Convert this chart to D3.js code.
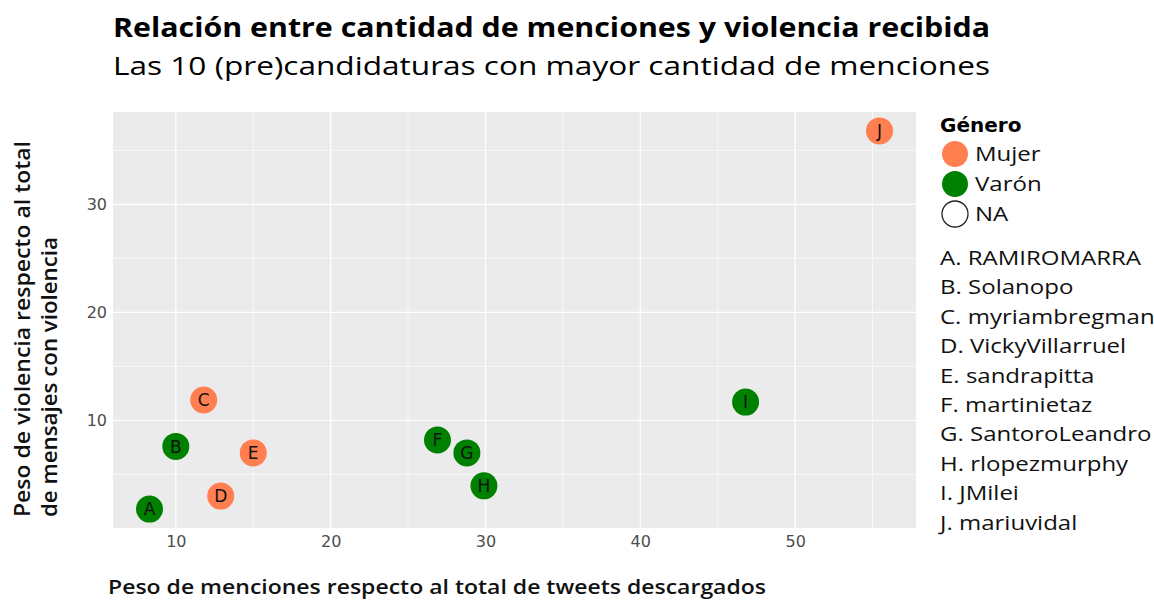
<!DOCTYPE html>
<html>
<head>
<meta charset="utf-8">
<script src="https://cdn.jsdelivr.net/npm/d3@7"></script>
<style>
  body { margin: 0; background: #fff; }
  text { font-family: "Open Sans", "DejaVu Sans", sans-serif; }
</style>
</head>
<body>
<div id="chart"></div>
<script>
// data
const letters = ["A", "B", "C", "D", "E", "F", "G", "H", "I", "J"];
const names = ["RAMIROMARRA", "Solanopo", "myriambregman", "VickyVillarruel", "sandrapitta",
  "martinietaz", "SantoroLeandro", "rlopezmurphy", "JMilei", "mariuvidal"];
const genero = ["Varón", "Varón", "Mujer", "Mujer", "Mujer", "Varón", "Varón", "Varón", "Varón", "Mujer"];
const menciones = [8.3, 10.0, 11.8, 12.9, 15.0, 26.9, 28.8, 29.9, 46.8, 55.45];
const violencia = [1.8, 7.6, 11.9, 3.0, 7.0, 8.2, 7.0, 3.95, 11.7, 36.8];
const xTicks = [10, 20, 30, 40, 50];
const yTicks = [10, 20, 30];
const legendKeys = ["Mujer", "Varón", "NA"];

const width = 1154, height = 601;
const panel = { left: 113, right: 916, top: 112, bottom: 528 };
const wide = "\"DejaVu Sans\", sans-serif";

const svg = d3.select("#chart").append("svg")
    .attr("width", width)
    .attr("height", height);

const data = letters.map((l, i) => ({
    letter: l, name: names[i], g: genero[i], x: menciones[i], y: violencia[i]
}));

// ggplot style 5% expansion
const xr = d3.extent(menciones), yr = d3.extent(violencia);
const xPad = (xr[1] - xr[0]) * 0.05, yPad = (yr[1] - yr[0]) * 0.05;

const x = d3.scaleLinear()
    .domain([xr[0] - xPad, xr[1] + xPad])
    .range([panel.left, panel.right]);
const y = d3.scaleLinear()
    .domain([yr[0] - yPad, yr[1] + yPad])
    .range([panel.bottom, panel.top]);

const color = d3.scaleOrdinal()
    .domain(["Mujer", "Varón"])
    .range(["#FF7F50", "#008000"]);

// panel background
svg.append("rect")
    .attr("x", panel.left)
    .attr("y", panel.top)
    .attr("width", panel.right - panel.left)
    .attr("height", panel.bottom - panel.top)
    .attr("fill", "#ebebeb");

const xMinor = d3.range(5, 60, 10).filter(v => v > x.domain()[0] && v < x.domain()[1]);
const yMinor = d3.range(5, 40, 10).filter(v => v > y.domain()[0] && v < y.domain()[1]);

const grid = svg.append("g").attr("stroke", "#fff");
grid.selectAll(".xminor").data(xMinor).enter().append("line")
    .attr("x1", d => x(d)).attr("x2", d => x(d))
    .attr("y1", panel.top).attr("y2", panel.bottom)
    .attr("stroke-width", 0.6);
grid.selectAll(".yminor").data(yMinor).enter().append("line")
    .attr("y1", d => y(d)).attr("y2", d => y(d))
    .attr("x1", panel.left).attr("x2", panel.right)
    .attr("stroke-width", 0.6);
grid.selectAll(".xmajor").data(xTicks).enter().append("line")
    .attr("x1", d => x(d)).attr("x2", d => x(d))
    .attr("y1", panel.top).attr("y2", panel.bottom)
    .attr("stroke-width", 1.2);
grid.selectAll(".ymajor").data(yTicks).enter().append("line")
    .attr("y1", d => y(d)).attr("y2", d => y(d))
    .attr("x1", panel.left).attr("x2", panel.right)
    .attr("stroke-width", 1.2);

// axes (labels only, ggplot minimal ticks)
const xAxis = svg.append("g")
    .attr("transform", `translate(0,${panel.bottom})`)
    .call(d3.axisBottom(x).tickValues(xTicks).tickSize(0).tickPadding(8));
const yAxis = svg.append("g")
    .attr("transform", `translate(${panel.left},0)`)
    .call(d3.axisLeft(y).tickValues(yTicks).tickSize(0).tickPadding(6));
[xAxis, yAxis].forEach(a => {
    a.select(".domain").remove();
    a.selectAll("text")
        .style("font-size", "16px")
        .style("font-family", wide)
        .attr("fill", "#4d4d4d");
});

// points
const pts = svg.append("g");
pts.selectAll("circle")
    .data(data)
    .enter()
    .append("circle")
        .attr("cx", d => x(d.x))
        .attr("cy", d => y(d.y))
        .attr("r", 13.5)
        .attr("fill", d => color(d.g));
pts.selectAll("text")
    .data(data)
    .enter()
    .append("text")
        .attr("x", d => x(d.x))
        .attr("y", d => y(d.y))
        .attr("dy", "0.36em")
        .attr("text-anchor", "middle")
        .style("font-size", "17px")
        .style("font-family", wide)
        .attr("fill", "#111")
        .text(d => d.letter);

// titles
svg.append("text")
    .attr("x", 113).attr("y", 37)
    .style("font-size", "26px")
    .style("font-weight", "bold")
    .attr("textLength", 877)
    .attr("lengthAdjust", "spacingAndGlyphs")
    .attr("fill", "#000")
    .text("Relación entre cantidad de menciones y violencia recibida");
svg.append("text")
    .attr("x", 113).attr("y", 75)
    .style("font-size", "26px")
    .attr("textLength", 877)
    .attr("lengthAdjust", "spacingAndGlyphs")
    .attr("fill", "#000")
    .text("Las 10 (pre)candidaturas con mayor cantidad de menciones");

// axis titles
svg.append("text")
    .attr("x", 108).attr("y", 594)
    .style("font-size", "20px")
    .style("font-weight", 600)
    .attr("textLength", 658)
    .attr("lengthAdjust", "spacingAndGlyphs")
    .attr("fill", "#111")
    .text("Peso de menciones respecto al total de tweets descargados");

const yTitle = svg.append("g")
    .attr("transform", "translate(0,517) rotate(-90)");
yTitle.append("text")
    .attr("x", 0).attr("y", 30)
    .style("font-size", "21px")
    .style("font-weight", 600)
    .attr("textLength", 376)
    .attr("lengthAdjust", "spacingAndGlyphs")
    .attr("fill", "#111")
    .text("Peso de violencia respecto al total");
yTitle.append("text")
    .attr("x", 0).attr("y", 57)
    .style("font-size", "21px")
    .style("font-weight", 600)
    .attr("textLength", 280)
    .attr("lengthAdjust", "spacingAndGlyphs")
    .attr("fill", "#111")
    .text("de mensajes con violencia");

// legend
const leg = svg.append("g").attr("transform", "translate(940,0)");
leg.append("text")
    .attr("x", 0).attr("y", 132)
    .style("font-size", "20px")
    .style("font-weight", "bold")
    .style("font-family", wide)
    .attr("fill", "#000")
    .text("Género");

const keys = leg.selectAll(".key")
    .data(legendKeys)
    .enter()
    .append("g")
        .attr("transform", (d, i) => `translate(0,${154 + i * 30})`);
keys.append("circle")
    .attr("cx", 15)
    .attr("cy", 0)
    .attr("r", 13)
    .attr("fill", d => d === "NA" ? "#fff" : color(d))
    .attr("stroke", d => d === "NA" ? "#222" : "none")
    .attr("stroke-width", 1.3);
keys.append("text")
    .attr("class", "wide")
    .attr("x", 35)
    .attr("y", 0)
    .attr("dy", "0.36em")
    .style("font-size", "20px")
    .attr("fill", "#111")
    .text(d => d);

leg.selectAll(".name")
    .data(data)
    .enter()
    .append("text")
        .attr("class", "wide")
        .attr("x", 0)
        .attr("y", (d, i) => 265 + i * 29.4)
        .style("font-size", "20px")
        .attr("fill", "#111")
        .text(d => `${d.letter}. ${d.name}`);

// the original face is wider than Open Sans: stretch legend labels a bit
leg.selectAll("text.wide").each(function() {
    const w = this.getComputedTextLength();
    d3.select(this)
        .attr("textLength", w * 1.2)
        .attr("lengthAdjust", "spacingAndGlyphs");
});
</script>
</body>
</html>
